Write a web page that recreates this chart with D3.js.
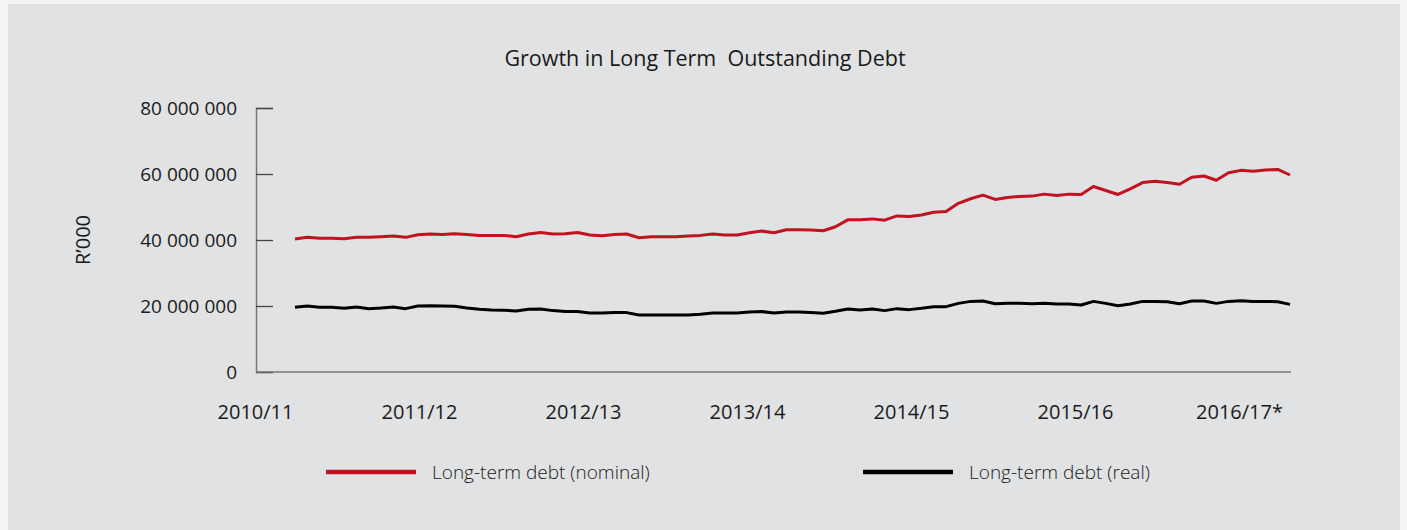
<!DOCTYPE html>
<html>
<head>
<meta charset="utf-8">
<script src="https://cdn.jsdelivr.net/npm/d3@7"></script>
<style>
  body { margin: 0; background: #f4f4f4; }
  svg { display: block; }
  text { font-family: "Open Sans", "DejaVu Sans", sans-serif; fill: #1a1a1a; }
</style>
</head>
<body>
<script>
// Step 1: data (R'000, in millions)
//= ================================
var nominalDebt = [
  40.3, 40.8, 40.5, 40.5, 40.4, 40.8, 40.8, 41.0, 41.2, 40.8,
  41.6, 41.8, 41.7, 41.9, 41.7, 41.4, 41.4, 41.4, 41.0, 41.8,
  42.3, 41.8, 41.9, 42.3, 41.5, 41.3, 41.7, 41.8, 40.7, 41.0,
  41.0, 41.0, 41.2, 41.4, 41.8, 41.5, 41.5, 42.2, 42.7, 42.2,
  43.1, 43.1, 43.0, 42.8, 44.0, 46.1, 46.1, 46.4, 46.0, 47.3,
  47.1, 47.6, 48.4, 48.6, 51.1, 52.5, 53.6, 52.3, 52.9, 53.2,
  53.3, 53.9, 53.5, 53.9, 53.8, 56.2, 55.0, 53.8, 55.5, 57.4,
  57.8, 57.4, 56.9, 59.0, 59.4, 58.1, 60.4, 61.1, 60.8, 61.2,
  61.4, 59.7
];

var realDebt = [
  19.6, 20.0, 19.6, 19.6, 19.3, 19.7, 19.2, 19.4, 19.7, 19.2,
  20.0, 20.1, 20.0, 19.9, 19.4, 19.0, 18.8, 18.7, 18.5, 19.0,
  19.1, 18.6, 18.3, 18.3, 17.9, 17.9, 18.0, 18.0, 17.3, 17.3,
  17.3, 17.3, 17.3, 17.5, 17.9, 17.9, 17.9, 18.2, 18.3, 17.9,
  18.2, 18.2, 18.0, 17.8, 18.4, 19.1, 18.8, 19.1, 18.6, 19.2,
  18.9, 19.3, 19.8, 19.8, 20.8, 21.4, 21.5, 20.7, 20.8, 20.8,
  20.7, 20.8, 20.6, 20.6, 20.3, 21.4, 20.8, 20.1, 20.6, 21.4,
  21.4, 21.3, 20.7, 21.5, 21.5, 20.8, 21.4, 21.6, 21.4, 21.4,
  21.3, 20.5
];

var yearLabels = ["2010/11", "2011/12", "2012/13", "2013/14", "2014/15", "2015/16", "2016/17*"];
var yTicks = [0, 20, 40, 60, 80];
var seriesNames = ["Long-term debt (nominal)", "Long-term debt (real)"];
var seriesColors = ["#c1121f", "#000000"];

// Step 2: svg + chart group
//= ================================
var svgWidth = 1407;
var svgHeight = 530;

var margin = { top: 108, right: 116, bottom: 158, left: 256 };
var width = svgWidth - margin.left - margin.right;
var height = svgHeight - margin.top - margin.bottom;

var svg = d3.select("body")
  .append("svg")
  .attr("width", svgWidth)
  .attr("height", svgHeight);

// grey panel
svg.append("rect")
  .attr("x", 8)
  .attr("y", 4)
  .attr("width", 1392)
  .attr("height", svgHeight)
  .attr("fill", "#e1e2e4");

svg.append("text")
  .attr("x", 705)
  .attr("y", 66)
  .attr("text-anchor", "middle")
  .style("font-size", "21.5px")
  .text("Growth in Long Term\u00a0\u00a0Outstanding Debt");

var chartGroup = svg.append("g")
  .attr("transform", `translate(${margin.left}, ${margin.top})`);

// Step 3: scales and axes
//= ================================
var xLinearScale = d3.scaleLinear()
  .domain([0, nominalDebt.length - 1])
  .range([39, 1034]);

var xLabelScale = d3.scalePoint()
  .domain(yearLabels)
  .range([-1, 983]);

var yLinearScale = d3.scaleLinear()
  .domain([0, 80])
  .range([height, 0]);

var leftAxis = d3.axisLeft(yLinearScale)
  .tickValues(yTicks)
  .tickSize(-17)
  .tickPadding(19)
  .tickFormat(d => d3.format(",")(d * 1e6).replace(/,/g, " "));

var yAxis = chartGroup.append("g").call(leftAxis);
yAxis.select(".domain").attr("stroke", "#777").attr("stroke-width", 1.5);
yAxis.selectAll(".tick line").attr("stroke", "#444").attr("stroke-width", 1.3);
yAxis.selectAll(".tick text")
  .style("font-size", "19px")
  .style("font-family", "\"Open Sans\", sans-serif")
  .attr("fill", "#1a1a1a");

var bottomAxis = d3.axisBottom(xLabelScale).tickSize(0).tickPadding(33);
var xAxis = chartGroup.append("g")
  .attr("transform", `translate(0, ${height})`)
  .call(bottomAxis);
xAxis.select(".domain").remove();
xAxis.selectAll(".tick text")
  .style("font-size", "20px")
  .style("font-family", "\"Open Sans\", sans-serif")
  .attr("fill", "#1a1a1a");

chartGroup.append("line")
  .attr("x1", 0)
  .attr("x2", width)
  .attr("y1", height)
  .attr("y2", height)
  .attr("stroke", "#777")
  .attr("stroke-width", 1.5);

// y label
chartGroup.append("text")
  .attr("transform", "rotate(-90)")
  .attr("x", 0 - 132)
  .attr("y", 0 - 166)
  .attr("text-anchor", "middle")
  .style("font-size", "20px")
  .text("R\u2019000");

// Step 4: lines
//= ================================
var lineGen = d3.line()
  .x((d, i) => xLinearScale(i))
  .y(d => yLinearScale(d));

[nominalDebt, realDebt].forEach(function(series, k) {
  chartGroup.append("path")
    .datum(series)
    .attr("fill", "none")
    .attr("stroke", seriesColors[k])
    .attr("stroke-width", 3)
    .attr("stroke-linejoin", "round")
    .attr("d", lineGen);
});

// Step 5: legend
//= ================================
var legendX = [326, 863];
var legend = svg.append("g");
seriesNames.forEach(function(name, k) {
  legend.append("line")
    .attr("x1", legendX[k])
    .attr("x2", legendX[k] + 90)
    .attr("y1", 472)
    .attr("y2", 472)
    .attr("stroke", seriesColors[k])
    .attr("stroke-width", 4.5);
  legend.append("text")
    .attr("x", legendX[k] + 106)
    .attr("y", 479)
    .style("font-size", "19px")
    .style("font-weight", 300)
    .attr("fill", "#2a2a2a")
    .text(name);
});
</script>
</body>
</html>
